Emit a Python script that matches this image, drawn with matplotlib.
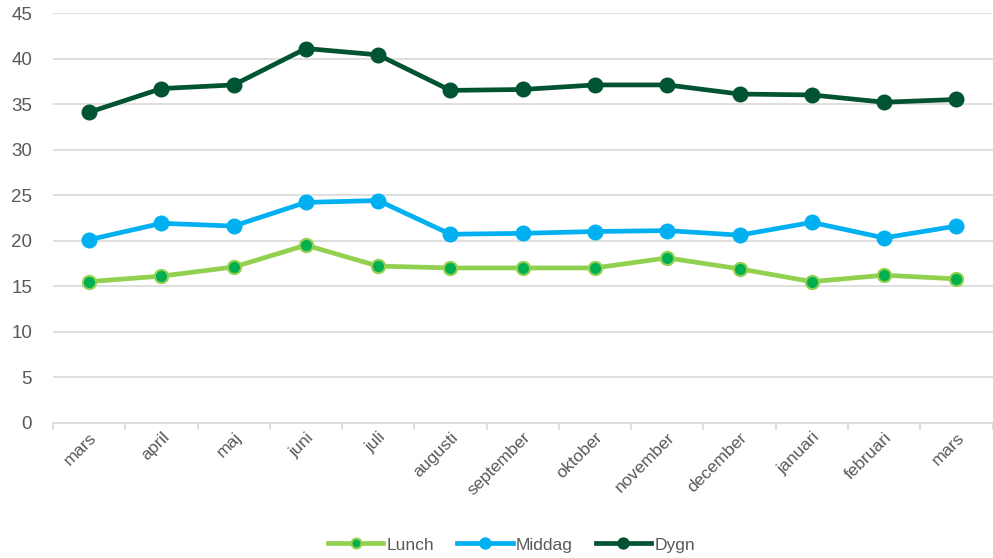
import matplotlib.pyplot as plt
from matplotlib.ticker import FixedLocator

plt.rcParams['font.family'] = ['Liberation Sans', 'DejaVu Sans']

MONTHS = ["mars", "april", "maj", "juni", "juli", "augusti", "september",
          "oktober", "november", "december", "januari", "februari", "mars"]
LUNCH = [15.5, 16.1, 17.1, 19.5, 17.2, 17.0, 17.0, 17.0, 18.1, 16.9, 15.5, 16.2, 15.8]
MIDDAG = [20.1, 21.9, 21.6, 24.2, 24.4, 20.7, 20.8, 21.0, 21.1, 20.6, 22.0, 20.3, 21.6]
DYGN = [34.1, 36.7, 37.1, 41.1, 40.4, 36.5, 36.6, 37.1, 37.1, 36.1, 36.0, 35.2, 35.5]

GRID = "#d9d9d9"; TXT = "#595959"

fig = plt.figure(figsize=(9.93, 5.58), dpi=100)
ax = fig.add_axes([53 / 993, 1 - 422.7 / 558, 939.5 / 993, (422.7 - 13) / 558])
x = list(range(len(MONTHS)))

ax.plot(x, LUNCH, color="#92d050", lw=3.4, marker="o", ms=9.5,
        mfc="#00b050", mec="#92d050", mew=1.5, label="Lunch", zorder=3)
ax.plot(x, MIDDAG, color="#00b0f0", lw=3.4, marker="o", ms=10.5,
        mfc="#00b0f0", mec="#00b0f0", label="Middag", zorder=3)
ax.plot(x, DYGN, color="#005432", lw=3.4, marker="o", ms=10.5,
        mfc="#005432", mec="#005432", label="Dygn", zorder=3)

ax.set_xlim(-0.5, len(MONTHS) - 0.5)
ax.set_ylim(0, 45)
ax.set_yticks(range(0, 46, 5))
ax.yaxis.grid(True, color=GRID, lw=1.2)
ax.set_axisbelow(True)
for s in ["top", "right", "left"]:
    ax.spines[s].set_visible(False)
ax.spines["bottom"].set_color(GRID)
ax.spines["bottom"].set_linewidth(1.2)

ax.set_xticks(x)
ax.set_xticklabels(MONTHS, rotation=45, ha="right", rotation_mode="anchor",
                   fontsize=12.5, color=TXT)
ax.xaxis.set_minor_locator(FixedLocator([i - 0.5 for i in range(len(MONTHS) + 1)]))
ax.tick_params(axis="x", which="major", length=0, pad=5)
ax.tick_params(axis="x", which="minor", length=5, color=GRID, width=1.2)
ax.tick_params(axis="y", length=0, labelsize=13.5, labelcolor=TXT, pad=15)

leg = fig.legend(loc="center", bbox_to_anchor=(0.5 + 15 / 993, 1 - 545 / 558), ncol=3,
                 frameon=False, fontsize=12.5, handlelength=3.2, handletextpad=0.2,
                 columnspacing=1.3, markerscale=0.75)
for t in leg.get_texts():
    t.set_color(TXT)

fig.savefig("out.png", dpi=100, facecolor="white")
